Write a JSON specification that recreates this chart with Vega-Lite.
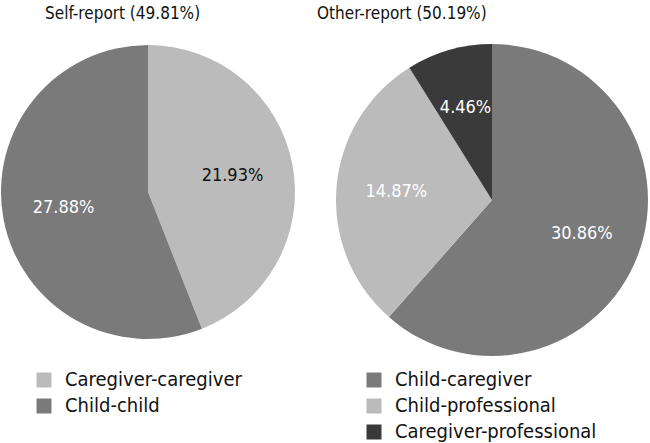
{
  "$schema": "https://vega.github.io/schema/vega-lite/v6.json",
  "padding": {"top": 5, "left": 0, "right": 0, "bottom": 0},
  "bounds": "flush",
  "spacing": 40,
  "background": "white",
  "config": {
    "view": {"stroke": null},
    "title": {"font": "DejaVu Sans Condensed", "fontSize": 17, "fontWeight": "normal", "color": "#111111", "anchor": "start", "offset": 21},
    "legend": {
      "orient": "none", "title": null, "symbolType": "square", "symbolSize": 225, "symbolStrokeWidth": 0,
      "labelFont": "DejaVu Sans Condensed", "labelFontSize": 20, "labelColor": "#111111", "labelOffset": 11, "labelLimit": 0,
      "rowPadding": 6, "padding": 0, "legendY": 326
    }
  },
  "hconcat": [
    {
      "width": 296,
      "height": 296,
      "title": {"text": "Self-report (49.81%)", "dx": 45},
      "data": {"values": [
        {"category": "Caregiver-caregiver", "share": 0.2193, "order": 1},
        {"category": "Child-child", "share": 0.2788, "order": 2}
      ]},
      "encoding": {
        "theta": {"field": "share", "type": "quantitative", "stack": true},
        "order": {"field": "order", "type": "quantitative"}
      },
      "layer": [
        {
          "mark": {"type": "arc", "outerRadius": 147},
          "encoding": {
            "color": {
              "field": "category", "type": "nominal",
              "scale": {"domain": ["Caregiver-caregiver", "Child-child"], "range": ["#bbbbbb", "#7a7a7a"]},
              "legend": {"legendX": 34}
            }
          }
        },
        {
          "mark": {"type": "text", "radius": 86, "font": "DejaVu Sans Condensed", "fontSize": 18},
          "encoding": {
            "detail": {"field": "category", "type": "nominal"},
            "text": {"field": "share", "type": "quantitative", "format": ".2%"},
            "color": {"condition": {"test": "datum.category === 'Caregiver-caregiver'", "value": "#111111"}, "value": "#ffffff"}
          }
        }
      ]
    },
    {
      "width": 312,
      "height": 312,
      "title": {"text": "Other-report (50.19%)", "dx": -19},
      "data": {"values": [
        {"category": "Child-caregiver", "share": 0.3086, "order": 1},
        {"category": "Child-professional", "share": 0.1487, "order": 2},
        {"category": "Caregiver-professional", "share": 0.0446, "order": 3}
      ]},
      "encoding": {
        "theta": {"field": "share", "type": "quantitative", "stack": true},
        "order": {"field": "order", "type": "quantitative"}
      },
      "layer": [
        {
          "mark": {"type": "arc", "outerRadius": 156},
          "encoding": {
            "color": {
              "field": "category", "type": "nominal",
              "scale": {"domain": ["Child-caregiver", "Child-professional", "Caregiver-professional"], "range": ["#7a7a7a", "#bbbbbb", "#3a3a3a"]},
              "legend": {"legendX": 28}
            }
          }
        },
        {
          "mark": {"type": "text", "radius": 96, "font": "DejaVu Sans Condensed", "fontSize": 18},
          "encoding": {
            "detail": {"field": "category", "type": "nominal"},
            "text": {"field": "share", "type": "quantitative", "format": ".2%"},
            "color": {"value": "#ffffff"}
          }
        }
      ]
    }
  ],
  "resolve": {"scale": {"color": "independent", "theta": "independent"}, "legend": {"color": "independent"}}
}
